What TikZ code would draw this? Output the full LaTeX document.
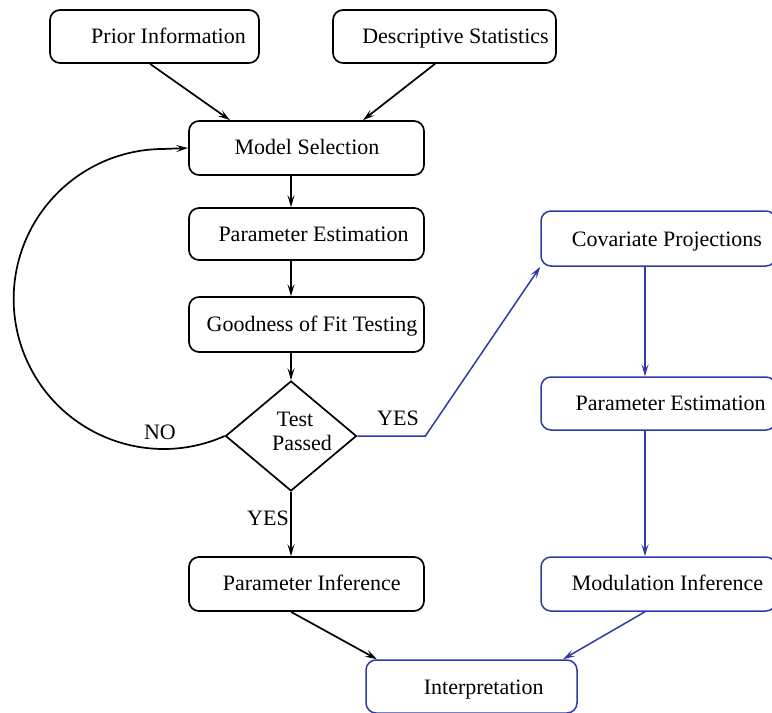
\documentclass[tikz,border=0pt]{standalone}
\usepackage{fontspec}
\setmainfont{Liberation Serif}
\usetikzlibrary{shapes.geometric,arrows.meta,calc}
\definecolor{blu}{RGB}{48,58,165}
\tikzset{
  box/.style={draw, line width=1.7pt, rounded corners=10pt, inner sep=0pt},
  bbox/.style={box, draw=blu, line width=1.5pt},
  txt/.style={font=\fontsize{22}{24}\selectfont, inner sep=0pt, text height=14.6pt, text depth=0pt},
  arr/.style={line width=1.7pt, -{Stealth[length=12pt,width=7pt,inset=5pt]}},
  barr/.style={arr, draw=blu, line width=1.5pt, -{Stealth[length=12pt,width=7pt,inset=5pt,fill=blu]}},
}
\begin{document}
\begin{tikzpicture}[x=1pt,y=1pt]
\useasboundingbox (0,0) rectangle (772,-713);
% boxes
\node[box, minimum width=209pt, minimum height=53pt] (pri) at (154.5,-36.5) {};
\node[box, minimum width=223pt, minimum height=53pt] (des) at (444.5,-36.5) {};
\node[box, minimum width=235pt, minimum height=54pt] (ms) at (306.5,-148) {};
\node[box, minimum width=235pt, minimum height=52pt] (pe) at (306.5,-234) {};
\node[box, minimum width=235pt, minimum height=55pt] (gof) at (306.5,-324.5) {};
\node[draw, line width=1.7pt, diamond, minimum width=131pt, minimum height=110pt, inner sep=0pt] (dia) at (291,-436) {};
\node[box, minimum width=235pt, minimum height=54pt] (pin) at (306.5,-584) {};
\node[bbox, minimum width=211pt, minimum height=53pt] (int) at (471.5,-686.5) {};
\node[bbox, minimum width=235pt, minimum height=55pt] (cov) at (658.5,-238.5) {};
\node[bbox, minimum width=235pt, minimum height=53pt] (per) at (658.5,-403.5) {};
\node[bbox, minimum width=235pt, minimum height=54pt] (mod) at (658.5,-584) {};
% texts
\node[txt] (tpri) at (168.5,-36) {Prior Information};
\node[txt] (tdes) at (455.5,-36) {Descriptive Statistics};
\node[txt] (tms) at (307,-147) {Model Selection};
\node[txt] (tpe) at (313.5,-234) {Parameter Estimation};
\node[txt] (tgof) at (312,-324) {Goodness of Fit Testing};
\node[txt] (ttest) at (295,-419) {Test};
\node[txt] (tpass) at (302,-443) {Passed};
\node[txt] (tpin) at (311.7,-583) {Parameter Inference};
\node[txt] (tint) at (483.7,-687) {Interpretation};
\node[txt] (tcov) at (667,-239) {Covariate Projections};
\node[txt] (tper) at (670.7,-403) {Parameter Estimation};
\node[txt] (tmod) at (667.5,-583) {Modulation Inference};
% labels
\node[txt] (lno) at (160,-432) {NO};
\node[txt] (lyes1) at (398,-418) {YES};
\node[txt] (lyes2) at (268,-518) {YES};
% black connectors
\draw[arr] ($(pri.south)+(-4.5,0)$) -- ($(ms.north)+(-76.5,0)$);
\draw[arr] ($(des.south)+(-9.5,0)$) -- ($(ms.north)+(56.5,0)$);
\draw[arr] (dia.north |- ms.south) -- (dia.north |- pe.north);
\draw[arr] (dia.north |- pe.south) -- (dia.north |- gof.north);
\draw[arr] (dia.north |- gof.south) -- (dia.north);
\draw[arr] (dia.south) -- (dia.south |- pin.north);
\draw[arr] ($(pin.south)+(-15.5,0)$) -- ($(int.north)+(-94.5,0)$);
\draw[arr] (dia.west) arc[start angle=-66, end angle=-270, radius=150] -- (ms.west);
% blue connectors
\coordinate (bend) at ($(dia.east)+(68,0)$);
\draw[barr] (dia.east) -- (bend) -- (cov.south west);
\draw[barr] ($(cov.south)+(-13.5,0)$) -- ($(per.north)+(-13.5,0)$);
\draw[barr] ($(per.south)+(-13.5,0)$) -- ($(mod.north)+(-13.5,0)$);
\draw[barr] ($(mod.south)+(-13.5,0)$) -- ($(int.north)+(91.5,0)$);
\end{tikzpicture}
\end{document}
